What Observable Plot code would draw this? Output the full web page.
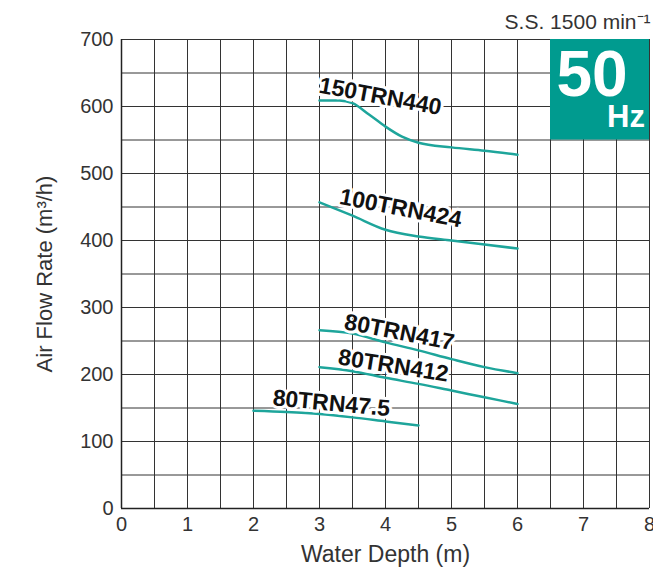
<!DOCTYPE html>
<html>
<head>
<meta charset="utf-8">
<script src="https://cdn.jsdelivr.net/npm/d3@7"></script>
<script src="https://cdn.jsdelivr.net/npm/@observablehq/plot@0.6"></script>
<style>
  html, body { margin: 0; padding: 0; background: #fff; }
  #chart svg { display: block; }
</style>
</head>
<body>
<div id="chart"></div>
<script>
// Data
const title = "S.S. 1500 min\u207B\u00B9";
const xLabel = "Water Depth (m)";
const yLabel = "Air Flow Rate (m\u00B3/h)";
const xTicks = [0, 1, 2, 3, 4, 5, 6, 7, 8];
const yTicks = [0, 100, 200, 300, 400, 500, 600, 700];

const s150TRN440 = [[3, 609], [3.3, 609], [3.5, 605], [3.75, 588], [4, 570], [4.25, 555], [4.5, 546], [5, 539], [5.5, 534], [6, 528]];
const s100TRN424 = [[3, 457], [3.5, 437], [4, 416], [4.5, 406], [5, 400], [5.5, 394], [6, 388]];
const s80TRN417 = [[3, 266], [3.5, 261], [4, 248], [4.5, 236], [5, 223], [5.5, 211], [6, 202]];
const s80TRN412 = [[3, 211], [3.5, 205], [4, 195], [4.5, 186], [5, 176], [5.5, 166], [6, 156]];
const s80TRN475 = [[2, 146], [2.5, 144], [3, 141], [3.5, 136], [4, 130], [4.5, 124]];

const seriesNames = ["150TRN440", "100TRN424", "80TRN417", "80TRN412", "80TRN47.5"];
const seriesValues = [s150TRN440, s100TRN424, s80TRN417, s80TRN412, s80TRN475];
// label anchor positions (data coords) and rotation angles
const labelX = [3.92, 4.23, 4.21, 4.12, 3.18];
const labelY = [615, 448, 263, 213, 157];
const labelAngle = [10.5, 11, 11, 9, 5.3];

const badgeMain = "50";
const badgeSub = "Hz";

const teal = "#009b8f";
const lineColor = "#1ea59b";
const gridColor = "#333";
const font = "'Liberation Sans', Arial, Helvetica, sans-serif";

const rows = seriesValues.flatMap((vals, i) => vals.map(([x, y]) => ({name: seriesNames[i], x, y})));
const labels = seriesNames.map((name, i) => ({name, x: labelX[i], y: labelY[i], a: labelAngle[i]}));

const gridX = d3.range(0, 8.01, 0.5);
const gridY = d3.range(0, 701, 50);

const chart = Plot.plot({
  width: 653,
  height: 569,
  marginLeft: 121,
  marginRight: 4,
  marginTop: 39,
  marginBottom: 61,
  style: {fontFamily: font, background: "#fff", overflow: "visible"},
  x: {domain: [0, 8]},
  y: {domain: [0, 700]},
  marks: [
    Plot.ruleX(gridX, {stroke: gridColor, strokeWidth: 1}),
    Plot.ruleY(gridY, {stroke: gridColor, strokeWidth: 1}),
    Plot.ruleX([0], {stroke: "#222", strokeWidth: 1.5}),
    Plot.ruleY([0], {stroke: "#222", strokeWidth: 1.5}),
    Plot.rect([{x1: 6.5, x2: 8, y1: 550, y2: 700}], {x1: "x1", x2: "x2", y1: "y1", y2: "y2", fill: teal}),
    Plot.text([badgeMain], {x: 7.13, y: 646, text: d => d, fill: "white", fontSize: 64, fontWeight: "bold"}),
    Plot.text([badgeSub], {x: 7.93, y: 584, text: d => d, fill: "white", fontSize: 31, fontWeight: "bold", textAnchor: "end"}),
    Plot.line(rows, {x: "x", y: "y", z: "name", stroke: lineColor, strokeWidth: 2.5, curve: "monotone-x"}),
    Plot.text(labels, {x: "x", y: "y", text: "name", rotate: "a", fontSize: 23, fontWeight: "bold", fill: "#111", stroke: "white", strokeWidth: 6, strokeLinejoin: "round"}),
    Plot.axisX(xTicks, {tickSize: 0, tickPadding: 8, fontSize: 20, fill: "#333", label: null}),
    Plot.axisY(yTicks, {tickSize: 0, tickPadding: 8, fontSize: 20, fill: "#333", label: null}),
    Plot.text([xLabel], {frameAnchor: "bottom", lineAnchor: "middle", textAnchor: "middle", dy: 46, text: d => d, fontSize: 23, fill: "#333"}),
    Plot.text([yLabel], {frameAnchor: "left", lineAnchor: "middle", textAnchor: "middle", dx: -77, rotate: -90, text: d => d, fontSize: 22, fill: "#333"}),
    Plot.text([title], {frameAnchor: "top-right", lineAnchor: "bottom", textAnchor: "end", dy: -11, dx: 1, text: d => d, fontSize: 21, fill: "#333"})
  ]
});
document.getElementById("chart").appendChild(chart);
</script>
</body>
</html>
